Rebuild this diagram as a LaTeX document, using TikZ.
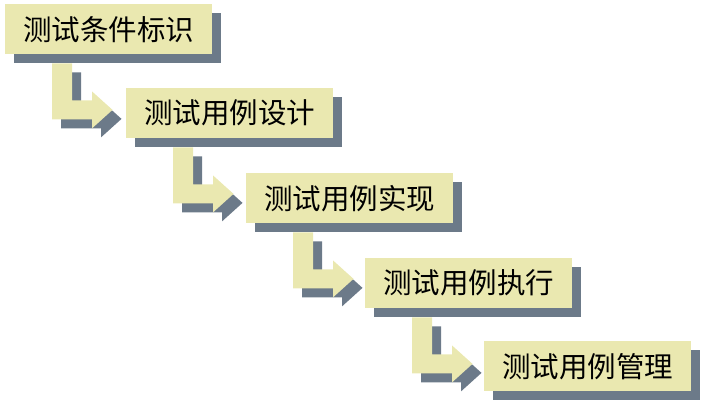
\documentclass[tikz,border=0pt]{standalone}
\usepackage{fontspec}
\newfontfamily\cjk{Noto Sans CJK SC}
\usetikzlibrary{shadows,calc}
\definecolor{boxyellow}{RGB}{234,232,176}
\definecolor{shadowgray}{RGB}{108,122,137}
\tikzset{
  stepbox/.style={fill=boxyellow, anchor=north west, minimum width=207pt,
    minimum height=50pt, inner sep=0pt, font=\cjk\fontsize{28.5}{30}\selectfont,
    drop shadow={shadow xshift=9pt, shadow yshift=-9pt, fill=shadowgray, opacity=1}},
  bend arrow/.pic={
    \fill[shadowgray] (56,18) -- (76,18) -- (76,55) -- (96,55) -- (96,46)
      -- (116.5,64.5) -- (96,83) -- (96,74) -- (56,74) -- cycle;
    \fill[boxyellow] (47,9) -- (67,9) -- (67,46) -- (87,46) -- (87,37)
      -- (107.5,55.5) -- (87,74) -- (87,65) -- (47,65) -- cycle;
  }
}
\begin{document}
\begin{tikzpicture}[x=1pt,y=-1pt]
\useasboundingbox (0,0) rectangle (702,404);
\node[stepbox] (b1) at (5,4) {测试条件标识};
\pic at (b1.south west) {bend arrow};
\node[stepbox] (b2) at (126,88) {测试用例设计};
\pic at (b2.south west) {bend arrow};
\node[stepbox] (b3) at (246,173) {测试用例实现};
\pic at (b3.south west) {bend arrow};
\node[stepbox] (b4) at (365,258) {测试用例执行};
\pic at (b4.south west) {bend arrow};
\node[stepbox] (b5) at (484,341) {测试用例管理};
\end{tikzpicture}
\end{document}
